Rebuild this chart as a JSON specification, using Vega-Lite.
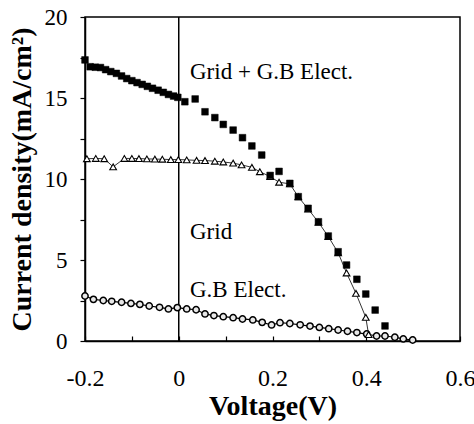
{
  "$schema": "https://vega.github.io/schema/vega-lite/v6.json",
  "width": 375,
  "height": 324,
  "autosize": {"type": "none"},
  "padding": {"left": 85, "top": 17, "right": 14, "bottom": 83},
  "background": "white",
  "config": {
    "view": {"stroke": "black", "strokeWidth": 1.5},
    "font": "Liberation Serif",
    "axis": {"grid": false, "domainColor": "black", "tickColor": "black", "labelColor": "black", "titleColor": "black", "labelFont": "Liberation Serif", "titleFont": "Liberation Serif"}
  },
  "datasets": {
    "pts": [
      {"s": "both", "v": -0.2, "j": 17.35},
      {"s": "both", "v": -0.189, "j": 16.93},
      {"s": "both", "v": -0.178, "j": 16.9},
      {"s": "both", "v": -0.167, "j": 16.88},
      {"s": "both", "v": -0.156, "j": 16.75},
      {"s": "both", "v": -0.145, "j": 16.63},
      {"s": "both", "v": -0.133, "j": 16.52},
      {"s": "both", "v": -0.122, "j": 16.36},
      {"s": "both", "v": -0.111, "j": 16.2},
      {"s": "both", "v": -0.1, "j": 16.07},
      {"s": "both", "v": -0.089, "j": 15.95},
      {"s": "both", "v": -0.078, "j": 15.84},
      {"s": "both", "v": -0.067, "j": 15.72},
      {"s": "both", "v": -0.056, "j": 15.6},
      {"s": "both", "v": -0.044, "j": 15.48},
      {"s": "both", "v": -0.033, "j": 15.35},
      {"s": "both", "v": -0.022, "j": 15.22},
      {"s": "both", "v": -0.011, "j": 15.12},
      {"s": "both", "v": -0.002, "j": 15.04},
      {"s": "both", "v": 0.013, "j": 14.77},
      {"s": "both", "v": 0.035, "j": 14.94},
      {"s": "both", "v": 0.056, "j": 14.15},
      {"s": "both", "v": 0.077, "j": 13.79},
      {"s": "both", "v": 0.095, "j": 13.37},
      {"s": "both", "v": 0.116, "j": 13.02},
      {"s": "both", "v": 0.136, "j": 12.55},
      {"s": "both", "v": 0.156, "j": 12.04},
      {"s": "both", "v": 0.177, "j": 11.48},
      {"s": "both", "v": 0.195, "j": 10.22},
      {"s": "both", "v": 0.214, "j": 10.47},
      {"s": "both", "v": 0.237, "j": 9.73},
      {"s": "both", "v": 0.255, "j": 8.91},
      {"s": "both", "v": 0.276, "j": 8.19},
      {"s": "both", "v": 0.298, "j": 7.36},
      {"s": "both", "v": 0.319, "j": 6.48},
      {"s": "both", "v": 0.34, "j": 5.51},
      {"s": "both", "v": 0.358, "j": 4.69},
      {"s": "both", "v": 0.38, "j": 3.81},
      {"s": "both", "v": 0.399, "j": 2.9},
      {"s": "both", "v": 0.419, "j": 1.91},
      {"s": "both", "v": 0.44, "j": 0.93},
      {"s": "grid", "v": -0.196, "j": 11.25},
      {"s": "grid", "v": -0.177, "j": 11.27},
      {"s": "grid", "v": -0.159, "j": 11.25},
      {"s": "grid", "v": -0.14, "j": 10.75},
      {"s": "grid", "v": -0.116, "j": 11.27},
      {"s": "grid", "v": -0.1, "j": 11.27},
      {"s": "grid", "v": -0.085, "j": 11.26},
      {"s": "grid", "v": -0.068, "j": 11.24},
      {"s": "grid", "v": -0.051, "j": 11.23},
      {"s": "grid", "v": -0.035, "j": 11.22},
      {"s": "grid", "v": -0.017, "j": 11.2},
      {"s": "grid", "v": -0.001, "j": 11.2},
      {"s": "grid", "v": 0.017, "j": 11.18},
      {"s": "grid", "v": 0.038, "j": 11.15},
      {"s": "grid", "v": 0.056, "j": 11.14},
      {"s": "grid", "v": 0.077, "j": 11.1},
      {"s": "grid", "v": 0.095, "j": 11.05},
      {"s": "grid", "v": 0.116, "j": 10.98},
      {"s": "grid", "v": 0.134, "j": 10.87},
      {"s": "grid", "v": 0.156, "j": 10.72},
      {"s": "grid", "v": 0.173, "j": 10.45},
      {"s": "grid", "v": 0.195, "j": 10.15},
      {"s": "grid", "v": 0.214, "j": 9.8},
      {"s": "grid", "v": 0.237, "j": 9.7},
      {"s": "grid", "v": 0.255, "j": 8.9},
      {"s": "grid", "v": 0.276, "j": 8.15},
      {"s": "grid", "v": 0.298, "j": 7.33},
      {"s": "grid", "v": 0.319, "j": 6.45},
      {"s": "grid", "v": 0.34, "j": 5.45},
      {"s": "grid", "v": 0.358, "j": 4.2},
      {"s": "grid", "v": 0.378, "j": 2.94},
      {"s": "grid", "v": 0.399, "j": 1.46},
      {"s": "grid", "v": 0.405, "j": 0.4},
      {"s": "gb", "v": -0.2, "j": 2.78},
      {"s": "gb", "v": -0.182, "j": 2.57},
      {"s": "gb", "v": -0.161, "j": 2.5},
      {"s": "gb", "v": -0.143, "j": 2.45},
      {"s": "gb", "v": -0.122, "j": 2.39},
      {"s": "gb", "v": -0.102, "j": 2.32},
      {"s": "gb", "v": -0.083, "j": 2.26},
      {"s": "gb", "v": -0.063, "j": 2.16},
      {"s": "gb", "v": -0.041, "j": 2.08},
      {"s": "gb", "v": -0.022, "j": 1.98},
      {"s": "gb", "v": -0.003, "j": 2.06},
      {"s": "gb", "v": 0.017, "j": 1.98},
      {"s": "gb", "v": 0.037, "j": 1.93},
      {"s": "gb", "v": 0.056, "j": 1.67},
      {"s": "gb", "v": 0.075, "j": 1.57},
      {"s": "gb", "v": 0.095, "j": 1.5},
      {"s": "gb", "v": 0.116, "j": 1.44},
      {"s": "gb", "v": 0.136, "j": 1.36},
      {"s": "gb", "v": 0.158, "j": 1.3},
      {"s": "gb", "v": 0.178, "j": 1.15},
      {"s": "gb", "v": 0.198, "j": 0.99},
      {"s": "gb", "v": 0.216, "j": 1.13},
      {"s": "gb", "v": 0.237, "j": 1.08},
      {"s": "gb", "v": 0.259, "j": 1.0},
      {"s": "gb", "v": 0.28, "j": 0.92},
      {"s": "gb", "v": 0.3, "j": 0.84},
      {"s": "gb", "v": 0.32, "j": 0.76},
      {"s": "gb", "v": 0.34, "j": 0.68},
      {"s": "gb", "v": 0.36, "j": 0.6},
      {"s": "gb", "v": 0.38, "j": 0.52},
      {"s": "gb", "v": 0.401, "j": 0.43},
      {"s": "gb", "v": 0.422, "j": 0.31},
      {"s": "gb", "v": 0.44, "j": 0.31},
      {"s": "gb", "v": 0.461, "j": 0.23},
      {"s": "gb", "v": 0.479, "j": 0.13},
      {"s": "gb", "v": 0.499, "j": 0.06}
    ],
    "labels": [
      {"v": 0.024, "j": 16.62, "t": "Grid + G.B Elect."},
      {"v": 0.024, "j": 6.73, "t": "Grid"},
      {"v": 0.024, "j": 3.15, "t": "G.B Elect."}
    ],
    "zero": [{"v": 0}]
  },
  "layer": [
    {
      "data": {"name": "zero"},
      "mark": {"type": "rule", "color": "black", "strokeWidth": 1.5},
      "encoding": {
        "x": {
          "field": "v", "type": "quantitative",
          "scale": {"domain": [-0.2, 0.6], "nice": false, "zero": false},
          "axis": {
            "values": [-0.2, -0.1, 0, 0.1, 0.2, 0.3, 0.4, 0.5, 0.6],
            "labelExpr": "abs(round(datum.value*10)) % 2 == 0 ? toString(round(datum.value*10)/10) : ''",
            "title": "Voltage(V)",
            "titleFontSize": 28, "titleFontWeight": "bold", "titlePadding": 2,
            "labelFontSize": 24, "labelPadding": 30, "tickSize": -5, "domainWidth": 1.5, "tickWidth": 1.2, "labelFlush": false
          }
        }
      }
    },
    {
      "data": {"name": "pts"},
      "transform": [{"filter": "datum.s == 'gb'"}],
      "mark": {"type": "line", "color": "black", "strokeWidth": 1.2},
      "encoding": {
        "x": {"field": "v", "type": "quantitative"},
        "y": {
          "field": "j", "type": "quantitative",
          "scale": {"domain": [0, 20], "nice": false},
          "axis": {
            "values": [0, 2.5, 5, 7.5, 10, 12.5, 15, 17.5, 20],
            "labelExpr": "datum.value % 5 == 0 ? datum.label : ''",
            "title": "Current density(mA/cm²)",
            "titleFontSize": 28, "titleFontWeight": "bold", "titlePadding": 8,
            "labelFontSize": 23, "labelPadding": 13, "tickSize": 5, "domainWidth": 1.5, "tickWidth": 1.2
          }
        }
      }
    },
    {
      "data": {"name": "pts"},
      "transform": [{"filter": "datum.s == 'grid'"}],
      "mark": {"type": "line", "color": "black", "strokeWidth": 0.8},
      "encoding": {
        "x": {"field": "v", "type": "quantitative"},
        "y": {"field": "j", "type": "quantitative"}
      }
    },
    {
      "data": {"name": "pts"},
      "transform": [{"filter": "datum.s == 'gb'"}],
      "mark": {"type": "point", "shape": "circle", "filled": true, "fill": "#e8e8e8", "stroke": "black", "strokeWidth": 1.5, "size": 40, "opacity": 1},
      "encoding": {
        "x": {"field": "v", "type": "quantitative"},
        "y": {"field": "j", "type": "quantitative"}
      }
    },
    {
      "data": {"name": "pts"},
      "transform": [{"filter": "datum.s == 'grid'"}],
      "mark": {"type": "point", "shape": "triangle-up", "filled": true, "fill": "white", "stroke": "black", "strokeWidth": 1.1, "size": 45, "opacity": 1},
      "encoding": {
        "x": {"field": "v", "type": "quantitative"},
        "y": {"field": "j", "type": "quantitative"}
      }
    },
    {
      "data": {"name": "pts"},
      "transform": [{"filter": "datum.s == 'both'"}],
      "mark": {"type": "point", "shape": "square", "filled": true, "fill": "black", "stroke": "black", "strokeWidth": 0.5, "size": 45, "opacity": 1},
      "encoding": {
        "x": {"field": "v", "type": "quantitative"},
        "y": {"field": "j", "type": "quantitative"}
      }
    },
    {
      "data": {"name": "labels"},
      "mark": {"type": "text", "align": "left", "baseline": "middle", "font": "Liberation Serif", "fontSize": 23, "color": "black"},
      "encoding": {
        "x": {"field": "v", "type": "quantitative"},
        "y": {"field": "j", "type": "quantitative"},
        "text": {"field": "t"}
      }
    }
  ]
}
